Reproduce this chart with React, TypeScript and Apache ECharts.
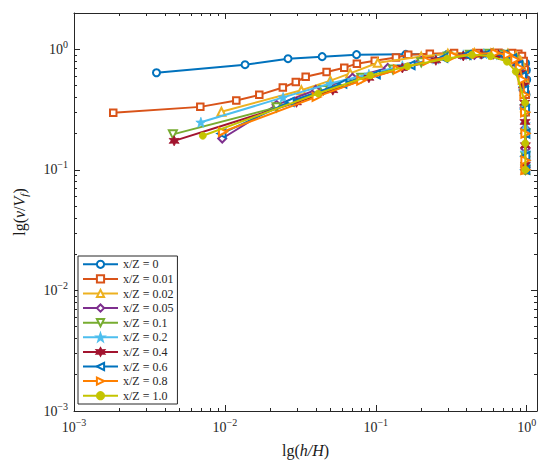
import React, { useEffect, useRef } from "react";
import * as echarts from "echarts";

// ---------- data ----------
const seriesNames = [
  "x/Z = 0",
  "x/Z = 0.01",
  "x/Z = 0.02",
  "x/Z = 0.05",
  "x/Z = 0.1",
  "x/Z = 0.2",
  "x/Z = 0.4",
  "x/Z = 0.6",
  "x/Z = 0.8",
  "x/Z = 1.0",
];

const seriesColors = [
  "#0072BD",
  "#D95319",
  "#EDB120",
  "#7E2F8E",
  "#77AC30",
  "#4DBEEE",
  "#A2142F",
  "#0072BD",
  "#FF8000",
  "#C4C400",
];

const s0 = [
  [0.00352, 0.639], [0.0136, 0.745], [0.0262, 0.836], [0.0441, 0.869], [0.0745, 0.903],
  [0.158, 0.909], [0.3, 0.91], [0.5, 0.91], [0.7, 0.912], [0.855, 0.904], [0.923, 0.864],
  [0.984, 0.766], [0.995, 0.67], [1.0, 0.56], [0.99, 0.42], [0.985, 0.3], [0.98, 0.2],
  [0.98, 0.13], [0.98, 0.1],
];
const s1 = [
  [0.00182, 0.297], [0.00687, 0.333], [0.0119, 0.376], [0.0169, 0.419], [0.0242, 0.482],
  [0.0295, 0.535], [0.0343, 0.592], [0.0472, 0.647], [0.0618, 0.703], [0.0749, 0.76],
  [0.0984, 0.805], [0.136, 0.856], [0.164, 0.9], [0.228, 0.92], [0.33, 0.93], [0.48, 0.93],
  [0.65, 0.935], [0.8, 0.93], [0.88, 0.92], [0.93, 0.88], [0.955, 0.8], [0.97, 0.68],
  [0.98, 0.55], [0.985, 0.42], [0.985, 0.3], [0.98, 0.2], [0.98, 0.1],
];
const s2 = [
  [0.00948, 0.303], [0.0321, 0.458], [0.05, 0.55], [0.0676, 0.631], [0.103, 0.774],
  [0.2, 0.87], [0.3, 0.92], [0.45, 0.93], [0.6, 0.93], [0.75, 0.92], [0.85, 0.88],
  [0.91, 0.8], [0.94, 0.7], [0.96, 0.58], [0.97, 0.45], [0.975, 0.33], [0.98, 0.22],
  [0.98, 0.14], [0.98, 0.1],
];
const s3 = [
  [0.0096, 0.182], [0.022, 0.346], [0.04, 0.46], [0.07, 0.58], [0.12, 0.7], [0.2, 0.8],
  [0.3, 0.87], [0.45, 0.9], [0.6, 0.91], [0.75, 0.88], [0.85, 0.8], [0.9, 0.7],
  [0.94, 0.58], [0.96, 0.45], [0.97, 0.33], [0.975, 0.22], [0.98, 0.15], [0.98, 0.1],
];
const s4 = [
  [0.00452, 0.197], [0.022, 0.33], [0.045, 0.46], [0.08, 0.58], [0.13, 0.68], [0.2, 0.78],
  [0.3, 0.87], [0.42, 0.9], [0.56, 0.92], [0.7, 0.9], [0.82, 0.82], [0.88, 0.72],
  [0.93, 0.6], [0.96, 0.45], [0.975, 0.32], [0.98, 0.2], [0.98, 0.13], [0.98, 0.1],
];
const s5 = [
  [0.00693, 0.248], [0.0243, 0.399], [0.05, 0.52], [0.09, 0.62], [0.15, 0.73], [0.25, 0.83],
  [0.38, 0.9], [0.52, 0.92], [0.66, 0.9], [0.78, 0.84], [0.86, 0.74], [0.91, 0.62],
  [0.95, 0.48], [0.97, 0.34], [0.98, 0.24], [0.98, 0.14], [0.98, 0.11],
];
const s6 = [
  [0.00461, 0.174], [0.0298, 0.363], [0.0519, 0.458], [0.09, 0.58], [0.15, 0.7], [0.25, 0.81],
  [0.38, 0.88], [0.5, 0.91], [0.65, 0.9], [0.77, 0.85], [0.86, 0.76], [0.91, 0.64],
  [0.95, 0.5], [0.97, 0.36], [0.975, 0.25], [0.98, 0.16], [0.98, 0.11],
];
const s7 = [
  [0.0095, 0.2], [0.0269, 0.367], [0.06, 0.52], [0.1, 0.62], [0.17, 0.74], [0.28, 0.85],
  [0.4, 0.9], [0.55, 0.92], [0.7, 0.9], [0.8, 0.84], [0.88, 0.74], [0.93, 0.6],
  [0.96, 0.46], [0.975, 0.32], [0.98, 0.2], [0.98, 0.13], [0.98, 0.1],
];
const s8 = [
  [0.0097, 0.207], [0.0405, 0.403], [0.08, 0.55], [0.14, 0.68], [0.22, 0.8], [0.33, 0.88],
  [0.47, 0.92], [0.62, 0.93], [0.75, 0.9], [0.84, 0.82], [0.9, 0.7], [0.94, 0.56],
  [0.965, 0.42], [0.975, 0.3], [0.98, 0.2], [0.98, 0.12], [0.98, 0.1],
];
const s9 = [
  [0.00714, 0.192], [0.0415, 0.43], [0.092, 0.607], [0.162, 0.722], [0.297, 0.84],
  [0.433, 0.9], [0.577, 0.878], [0.74, 0.79], [0.846, 0.655], [0.975, 0.36],
  [0.978, 0.166], [0.98, 0.1],
];
const seriesData = [s0, s1, s2, s3, s4, s5, s6, s7, s8, s9];

const majorTicks = [0.001, 0.01, 0.1, 1];
const minorTicks = [
  0.002, 0.003, 0.004, 0.005, 0.006, 0.007, 0.008, 0.009,
  0.02, 0.03, 0.04, 0.05, 0.06, 0.07, 0.08, 0.09,
  0.2, 0.3, 0.4, 0.5, 0.6, 0.7, 0.8, 0.9,
];

// ---------- styles ----------
const FONT = "'Liberation Serif', 'Times New Roman', 'DejaVu Serif', serif";
const INK = "#262626";

const STAR5 =
  "path://M0,-10 L2.35,-3.24 L9.51,-3.09 L3.8,1.24 L5.88,8.09 L0,4 L-5.88,8.09 L-3.8,1.24 L-9.51,-3.09 L-2.35,-3.24 Z";
const STAR6 =
  "path://M0,-10 L2.6,-4.5 L8.66,-5 L5.2,0 L8.66,5 L2.6,4.5 L0,10 L-2.6,4.5 L-8.66,5 L-5.2,0 L-8.66,-5 L-2.6,-4.5 Z";

const symbols = [
  { symbol: "emptyCircle", rotate: 0, size: 7 },
  { symbol: "emptyRect", rotate: 0, size: 6.5 },
  { symbol: "emptyTriangle", rotate: 0, size: 8 },
  { symbol: "emptyDiamond", rotate: 0, size: 8 },
  { symbol: "emptyTriangle", rotate: 180, size: 8 },
  { symbol: STAR5, rotate: 0, size: 10 },
  { symbol: STAR6, rotate: 0, size: 10 },
  { symbol: "emptyTriangle", rotate: 90, size: 8 },
  { symbol: "emptyTriangle", rotate: -90, size: 8 },
  { symbol: "circle", rotate: 0, size: 7 },
];

const tickLabelFormatter = (v: number) => {
  const e = Math.round(Math.log10(v));
  const s = e < 0 ? "\u2212" + String(-e) : String(e);
  return "{b|10}{s|" + s + "}";
};

const tickRich = {
  b: { fontSize: 14, lineHeight: 20, fontFamily: FONT, color: INK },
  s: { fontSize: 10, lineHeight: 8, verticalAlign: "top", fontFamily: FONT, color: INK },
};

function makeAxis(
  min: number,
  max: number,
  position: string,
  minor: boolean,
  withLabels: boolean,
  extra: any = {}
) {
  return {
    type: "log",
    logBase: 10,
    min,
    max,
    position,
    gridIndex: 0,
    axisLine: {
      show: !minor,
      onZero: false,
      lineStyle: { color: INK, width: 1 },
    },
    axisTick: {
      show: true,
      inside: true,
      length: minor ? 3 : 6,
      customValues: minor ? minorTicks : majorTicks,
      lineStyle: { color: INK, width: 1 },
    },
    axisLabel: withLabels
      ? {
          show: true,
          customValues: majorTicks,
          formatter: tickLabelFormatter,
          rich: tickRich,
          margin: 6,
        }
      : { show: false },
    minorTick: { show: false },
    splitLine: { show: false },
    minorSplitLine: { show: false },
    ...extra,
  };
}

const X_MIN = 0.001;
const X_MAX = 1.17;
const Y_MIN = 0.001;
const Y_MAX = 2;

export default function App() {
  const ref = useRef<HTMLDivElement>(null);

  useEffect(() => {
    if (!ref.current) return;
    const chart = echarts.init(ref.current, null, { renderer: "svg" });

    const nameCommon = {
      nameLocation: "middle",
      nameTextStyle: {
        fontFamily: FONT,
        color: "#1a1a1a",
        rich: {
          n: { fontSize: 16, lineHeight: 20, fontFamily: FONT, color: "#1a1a1a" },
          i: { fontSize: 16, lineHeight: 20, fontStyle: "italic", fontFamily: FONT, color: "#1a1a1a" },
          sub: {
            fontSize: 11,
            lineHeight: 12,
            verticalAlign: "bottom",
            fontStyle: "italic",
            fontFamily: FONT,
            color: "#1a1a1a",
          },
        },
      },
    };

    const option: any = {
      animation: false,
      backgroundColor: "#ffffff",
      grid: {
        left: 74,
        right: 13,
        top: 13,
        bottom: 59,
        containLabel: false,
        outerBoundsMode: "none",
      },
      legend: {
        show: true,
        orient: "vertical",
        left: 78,
        top: 256,
        padding: [1, 4, 1, 4],
        itemGap: 0,
        itemWidth: 35,
        itemHeight: 9,
        selectedMode: false,
        backgroundColor: "#ffffff",
        borderColor: INK,
        borderWidth: 1,
        borderRadius: 0,
        textStyle: { fontFamily: FONT, fontSize: 12, lineHeight: 14.6, color: INK },
        data: seriesNames,
      },
      xAxis: [
        makeAxis(X_MIN, X_MAX, "bottom", false, true, {
          ...nameCommon,
          name: "{n|lg(}{i|h/H}{n|)}",
          nameGap: 29,
        }),
        makeAxis(X_MIN, X_MAX, "bottom", true, false),
        makeAxis(X_MIN, X_MAX, "top", false, false),
        makeAxis(X_MIN, X_MAX, "top", true, false),
      ],
      yAxis: [
        makeAxis(Y_MIN, Y_MAX, "left", false, true, {
          ...nameCommon,
          name: "{n|lg(}{i|v}{n|/}{i|V}{sub|f}{n|)}",
          nameGap: 45,
        }),
        makeAxis(Y_MIN, Y_MAX, "left", true, false),
        makeAxis(Y_MIN, Y_MAX, "right", false, false),
        makeAxis(Y_MIN, Y_MAX, "right", true, false),
      ],
      series: seriesNames.map((name, k) => {
        const sym = symbols[k];
        const filled = !sym.symbol.startsWith("empty");
        return {
          name,
          type: "line",
          xAxisIndex: 0,
          yAxisIndex: 0,
          data: seriesData[k],
          symbol: sym.symbol,
          symbolSize: sym.size,
          symbolRotate: sym.rotate,
          showSymbol: true,
          showAllSymbol: true,
          clip: true,
          z: 2 + k,
          lineStyle: { color: seriesColors[k], width: 2 },
          itemStyle: filled
            ? { color: seriesColors[k], borderColor: seriesColors[k], borderWidth: 0.8 }
            : { color: seriesColors[k] },
          emphasis: { disabled: true },
        };
      }),
    };

    chart.setOption(option);
    return () => chart.dispose();
  }, []);

  return (
    <div
      ref={ref}
      style={{ position: "absolute", left: 0, top: 0, width: 550, height: 470, background: "#fff" }}
    />
  );
}
